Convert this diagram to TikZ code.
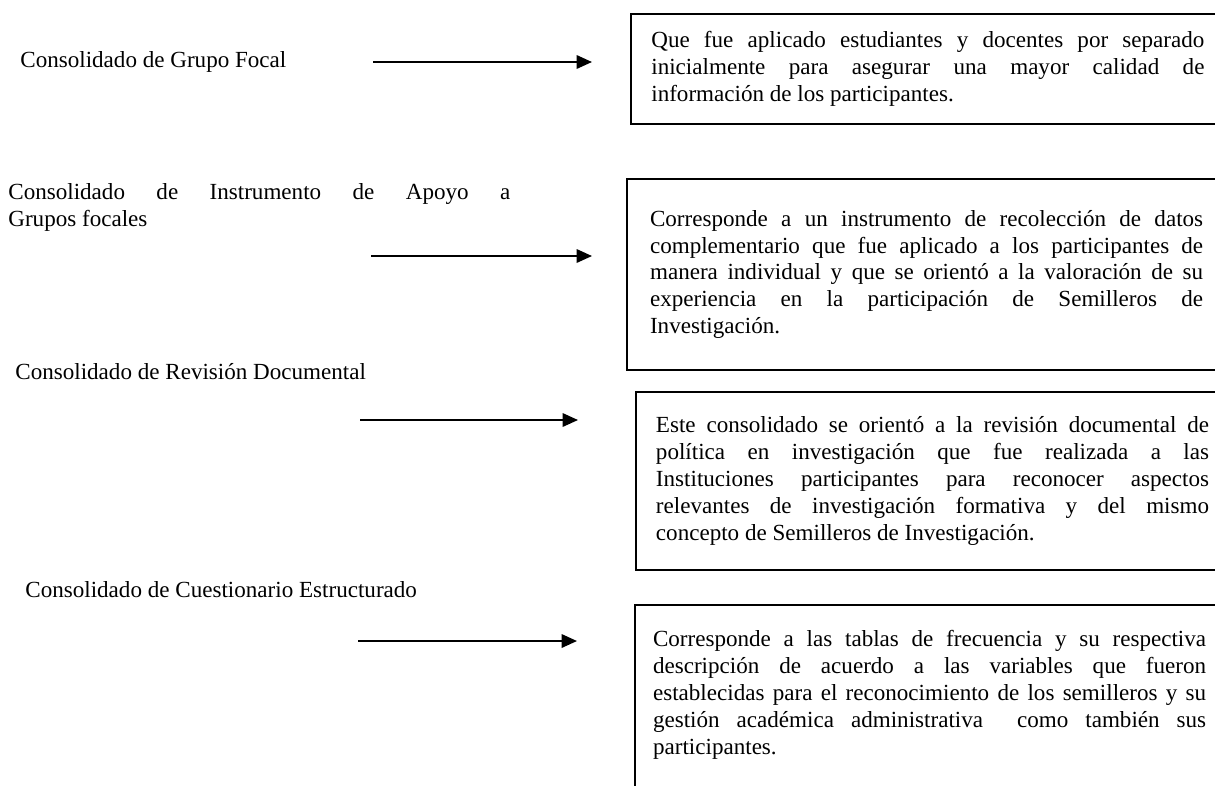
\documentclass[tikz,border=0pt]{standalone}
\usepackage{fontspec}
\setmainfont{Liberation Serif}
\usetikzlibrary{arrows.meta}

\begin{document}
\begin{tikzpicture}[x=0.52pt,y=-0.52pt,
	font=\fontsize{12}{14}\selectfont,
	lbl/.style={anchor=west,inner sep=0pt},
	desc/.style={draw,line width=1pt,anchor=north west,text width=287.6pt,align=justify,inner ysep=0pt},
	flecha/.style={line width=1pt,-{Triangle[length=8pt,width=7pt]}}]
			\clip (0,0) rectangle (1215,785);

			\node[lbl] (L1) at (20,62) {Consolidado de Grupo Focal};
			\node[lbl,text width=261pt,align=justify] (L2) at (8,207) {Consolidado de Instrumento de Apoyo a\linebreak Grupos focales};
			\node[lbl] (L3) at (15,372) {Consolidado de Revisión Documental};
			\node[lbl] (L4) at (25,590) {Consolidado de Cuestionario Estructurado};

			\node[desc,inner xsep=10.6pt,minimum height=57.2pt] (D1) at (630,13) {Que fue aplicado estudiantes y docentes por separado\linebreak inicialmente para asegurar una mayor calidad de\linebreak información de los participantes.};
			\node[desc,inner xsep=12pt,minimum height=99.3pt] (D2) at (626,178) {Corresponde a un instrumento de recolección de datos\linebreak complementario que fue aplicado a los participantes de\linebreak manera individual y que se orientó a la valoración de su\linebreak experiencia en la participación de Semilleros de\linebreak Investigación.};
			\node[desc,inner xsep=10.4pt,minimum height=92.6pt] (D3) at (635,391) {Este consolidado se orientó a la revisión documental de\linebreak política en investigación que fue realizada a las\linebreak Instituciones participantes para reconocer aspectos\linebreak relevantes de investigación formativa y del mismo\linebreak concepto de Semilleros de Investigación.};
			\node[desc,inner xsep=9.4pt,minimum height=105pt] (D4) at (634,604) {Corresponde a las tablas de frecuencia y su respectiva\linebreak descripción de acuerdo a las variables que fueron\linebreak establecidas para el reconocimiento de los semilleros y su\linebreak gestión académica administrativa~ como también sus\linebreak participantes.\par\mbox{}};

			\coordinate (A1) at (373,62);
			\coordinate (B1) at (592,62);
			\coordinate (A2) at (371,256);
			\coordinate (B2) at (592,256);
			\coordinate (A3) at (360,420);
			\coordinate (B3) at (578,420);
			\coordinate (A4) at (358,641);
			\coordinate (B4) at (577,641);

			\foreach \i in {1,...,4}
			\draw[flecha] (A\i) -- (B\i);
		\end{tikzpicture}
\end{document}
